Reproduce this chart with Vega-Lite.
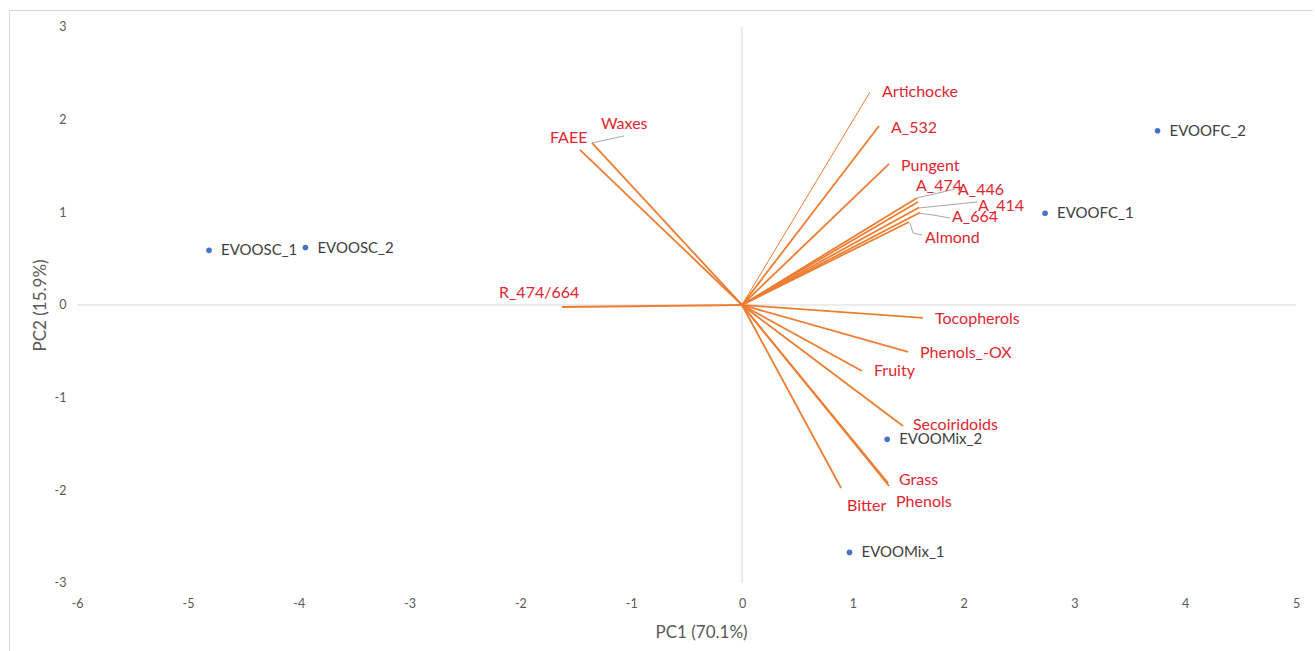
{
  "$schema": "https://vega.github.io/schema/vega-lite/v6.json",
  "autosize": {"type": "none"},
  "padding": {"left": 9, "top": 10, "right": 0, "bottom": 0},
  "width": 1304,
  "height": 645,
  "background": "#ffffff",
  "config": {
    "view": {"stroke": "#d9d9d9", "strokeWidth": 1},
    "font": "Lato",
    "axis": {"grid": false, "domain": false, "ticks": false, "labelFont": "Lato", "titleFont": "Lato", "labelColor": "#595959", "titleColor": "#595959", "labelFontSize": 12.5, "titleFontSize": 17, "titleFontWeight": "normal", "labelExpr": "'' + datum.value"}
  },
  "datasets": {
    "scores": [
      {"sample": "EVOOSC_1", "pc1": -4.81, "pc2": 0.59},
      {"sample": "EVOOSC_2", "pc1": -3.94, "pc2": 0.62},
      {"sample": "EVOOFC_2", "pc1": 3.75, "pc2": 1.88},
      {"sample": "EVOOFC_1", "pc1": 2.735, "pc2": 0.99},
      {"sample": "EVOOMix_2", "pc1": 1.31, "pc2": -1.45},
      {"sample": "EVOOMix_1", "pc1": 0.97, "pc2": -2.67}
    ],
    "loadings": [
      {"variable": "Artichocke", "pc1": 1.155, "pc2": 2.298, "label_pc1": 1.264, "label_pc2": 2.298},
      {"variable": "A_532", "pc1": 1.236, "pc2": 1.932, "label_pc1": 1.345, "label_pc2": 1.91},
      {"variable": "Pungent", "pc1": 1.327, "pc2": 1.522, "label_pc1": 1.435, "label_pc2": 1.5},
      {"variable": "A_474", "pc1": 1.579, "pc2": 1.155, "label_pc1": 1.57, "label_pc2": 1.284},
      {"variable": "A_446", "pc1": 1.588, "pc2": 1.111, "label_pc1": 1.949, "label_pc2": 1.241},
      {"variable": "A_414", "pc1": 1.597, "pc2": 1.052, "label_pc1": 2.13, "label_pc2": 1.068},
      {"variable": "A_664", "pc1": 1.606, "pc2": 0.998, "label_pc1": 1.895, "label_pc2": 0.95},
      {"variable": "Almond", "pc1": 1.507, "pc2": 0.896, "label_pc1": 1.652, "label_pc2": 0.723},
      {"variable": "Tocopherols", "pc1": 1.634, "pc2": -0.14, "label_pc1": 1.742, "label_pc2": -0.151},
      {"variable": "Phenols_-OX", "pc1": 1.498, "pc2": -0.507, "label_pc1": 1.606, "label_pc2": -0.518},
      {"variable": "Fruity", "pc1": 1.083, "pc2": -0.712, "label_pc1": 1.191, "label_pc2": -0.712},
      {"variable": "Secoiridoids", "pc1": 1.453, "pc2": -1.306, "label_pc1": 1.543, "label_pc2": -1.296},
      {"variable": "Grass", "pc1": 1.318, "pc2": -1.921, "label_pc1": 1.417, "label_pc2": -1.888},
      {"variable": "Phenols", "pc1": 1.327, "pc2": -1.953, "label_pc1": 1.39, "label_pc2": -2.126},
      {"variable": "Bitter", "pc1": 0.894, "pc2": -1.975, "label_pc1": 0.948, "label_pc2": -2.169},
      {"variable": "R_474/664", "pc1": -1.625, "pc2": -0.022, "label_pc1": -2.193, "label_pc2": 0.129},
      {"variable": "FAEE", "pc1": -1.462, "pc2": 1.673, "label_pc1": -1.733, "label_pc2": 1.802},
      {"variable": "Waxes", "pc1": -1.354, "pc2": 1.748, "label_pc1": -1.273, "label_pc2": 1.953}
    ],
    "leaders": [
      {"leader": "Waxes", "step": 1, "pc1": -1.354, "pc2": 1.748},
      {"leader": "Waxes", "step": 2, "pc1": -1.065, "pc2": 1.824},
      {"leader": "A_446", "step": 1, "pc1": 1.579, "pc2": 1.155},
      {"leader": "A_446", "step": 2, "pc1": 1.922, "pc2": 1.25},
      {"leader": "A_414", "step": 1, "pc1": 1.597, "pc2": 1.047},
      {"leader": "A_414", "step": 2, "pc1": 2.121, "pc2": 1.111},
      {"leader": "A_664", "step": 1, "pc1": 1.606, "pc2": 0.988},
      {"leader": "A_664", "step": 2, "pc1": 1.724, "pc2": 0.971},
      {"leader": "A_664", "step": 3, "pc1": 1.877, "pc2": 0.939},
      {"leader": "Almond", "step": 1, "pc1": 1.516, "pc2": 0.885},
      {"leader": "Almond", "step": 2, "pc1": 1.543, "pc2": 0.777},
      {"leader": "Almond", "step": 3, "pc1": 1.625, "pc2": 0.755}
    ],
    "zero_lines": [
      {"line": "PC1 = 0", "x_from": 0, "x_to": 0, "y_from": -3, "y_to": 3},
      {"line": "PC2 = 0", "x_from": -6, "x_to": 5, "y_from": 0, "y_to": 0}
    ]
  },
  "layer": [
    {
      "data": {"name": "zero_lines"},
      "mark": {"type": "rule", "color": "#d9d9d9", "strokeWidth": 1},
      "encoding": {
        "x": {"field": "x_from", "type": "quantitative", "scale": {"domain": [-6.615, 5.153], "nice": false, "zero": false},
          "axis": {"orient": "bottom", "values": [-6, -5, -4, -3, -2, -1, 0, 1, 2, 3, 4, 5], "offset": -58, "labelPadding": 0, "labelBaseline": "top", "title": "PC1 (70.1%)", "titleX": 692, "titleY": 35, "titleBaseline": "middle"}},
        "x2": {"field": "x_to"},
        "y": {"field": "y_from", "type": "quantitative", "scale": {"domain": [-3.777, 3.183], "nice": false, "zero": false},
          "axis": {"orient": "left", "values": [-3, -2, -1, 0, 1, 2, 3], "offset": -57, "labelPadding": 0, "title": "PC2 (15.9%)", "titleX": -26, "titleY": 295, "titleBaseline": "middle", "titleAngle": -90}},
        "y2": {"field": "y_to"}
      }
    },
    {
      "data": {"name": "loadings"},
      "mark": {"type": "rule", "color": "#ED7D31"},
      "encoding": {
        "x": {"field": "pc1", "type": "quantitative"},
        "y": {"field": "pc2", "type": "quantitative"},
        "x2": {"datum": 0},
        "y2": {"datum": 0},
        "strokeWidth": {"condition": {"test": "datum.variable === 'Artichocke'", "value": 1}, "value": 1.8}
      }
    },
    {
      "data": {"name": "leaders"},
      "mark": {"type": "line", "color": "#a6a6a6", "strokeWidth": 1},
      "encoding": {
        "x": {"field": "pc1", "type": "quantitative"},
        "y": {"field": "pc2", "type": "quantitative"},
        "detail": {"field": "leader", "type": "nominal"},
        "order": {"field": "step", "type": "quantitative"}
      }
    },
    {
      "data": {"name": "scores"},
      "mark": {"type": "circle", "color": "#4472C4", "size": 32, "opacity": 1},
      "encoding": {
        "x": {"field": "pc1", "type": "quantitative"},
        "y": {"field": "pc2", "type": "quantitative"}
      }
    },
    {
      "data": {"name": "scores"},
      "mark": {"type": "text", "align": "left", "baseline": "middle", "dx": 12, "fontSize": 15, "color": "#404040"},
      "encoding": {
        "x": {"field": "pc1", "type": "quantitative"},
        "y": {"field": "pc2", "type": "quantitative"},
        "text": {"field": "sample", "type": "nominal"}
      }
    },
    {
      "data": {"name": "loadings"},
      "mark": {"type": "text", "align": "left", "baseline": "middle", "fontSize": 16, "color": "#E0262F"},
      "encoding": {
        "x": {"field": "label_pc1", "type": "quantitative"},
        "y": {"field": "label_pc2", "type": "quantitative"},
        "text": {"field": "variable", "type": "nominal"}
      }
    }
  ]
}
